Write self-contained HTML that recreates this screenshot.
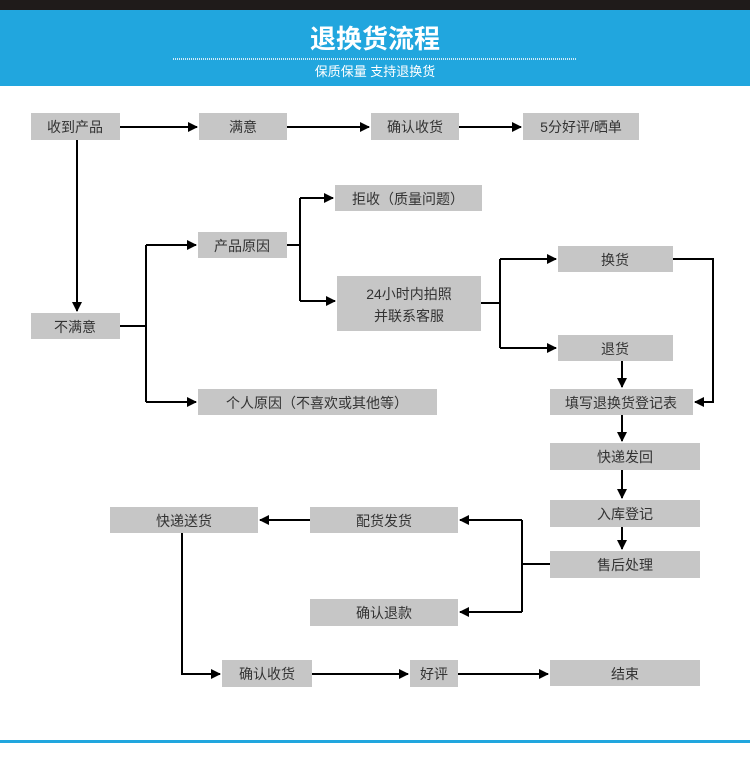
<!DOCTYPE html>
<html><head><meta charset="utf-8"><style>
body{margin:0;background:#fff;width:750px;height:758px;overflow:hidden}
svg text{font-family:"Liberation Sans","Noto Sans CJK SC",sans-serif}
</style></head><body>
<svg width="750" height="758" xmlns="http://www.w3.org/2000/svg">
<defs><marker id="a" markerWidth="10" markerHeight="10" refX="9" refY="5" orient="auto" markerUnits="userSpaceOnUse"><path d="M0,0 L10,5 L0,10z" fill="#000"/></marker></defs>
<rect x="0" y="0" width="750" height="10" fill="#1f1b1a"/>
<rect x="0" y="10" width="750" height="76" fill="#21a6de"/>
<text x="375" y="48" font-size="26" font-weight="bold" fill="#fff" text-anchor="middle">退换货流程</text>
<line x1="173" y1="59" x2="577" y2="59" stroke="#cfeaf7" stroke-width="2" stroke-dasharray="1,1"/>
<text x="375" y="76" font-size="13" fill="#fff" text-anchor="middle">保质保量 支持退换货</text>
<rect x="0" y="740" width="750" height="3" fill="#21a6de"/>
<g fill="#c6c6c6">
<rect x="31" y="113" width="89" height="27"/><rect x="199" y="113" width="88" height="27"/>
<rect x="371" y="113" width="88" height="27"/><rect x="523" y="113" width="116" height="27"/>
<rect x="335" y="185" width="147" height="26"/><rect x="198" y="232" width="89" height="26"/>
<rect x="337" y="276" width="144" height="55"/><rect x="558" y="246" width="115" height="26"/>
<rect x="558" y="335" width="115" height="26"/><rect x="31" y="313" width="89" height="26"/>
<rect x="198" y="389" width="239" height="26"/><rect x="550" y="389" width="143" height="26"/>
<rect x="550" y="443" width="150" height="27"/><rect x="550" y="500" width="150" height="27"/>
<rect x="550" y="551" width="150" height="27"/><rect x="110" y="507" width="148" height="26"/>
<rect x="310" y="507" width="148" height="26"/><rect x="310" y="599" width="148" height="27"/>
<rect x="222" y="660" width="90" height="27"/><rect x="410" y="660" width="48" height="27"/>
<rect x="550" y="660" width="150" height="26"/>
</g>
<g font-size="14" fill="#333" text-anchor="middle">
<text x="75" y="132">收到产品</text><text x="243" y="132">满意</text>
<text x="415" y="132">确认收货</text><text x="581" y="132">5分好评/晒单</text>
<text x="408" y="204">拒收（质量问题）</text><text x="242" y="251">产品原因</text>
<text x="409" y="299">24小时内拍照</text><text x="409" y="321">并联系客服</text>
<text x="615" y="265">换货</text><text x="615" y="354">退货</text>
<text x="75" y="332">不满意</text><text x="317" y="408">个人原因（不喜欢或其他等）</text>
<text x="621" y="408">填写退换货登记表</text><text x="625" y="462">快递发回</text>
<text x="625" y="519">入库登记</text><text x="625" y="570">售后处理</text>
<text x="184" y="526">快递送货</text><text x="384" y="526">配货发货</text>
<text x="384" y="618">确认退款</text><text x="267" y="679">确认收货</text>
<text x="434" y="679">好评</text><text x="625" y="679">结束</text>
</g>
<g stroke="#000" stroke-width="2" fill="none">
<line x1="120" y1="127" x2="197" y2="127" marker-end="url(#a)"/>
<line x1="287" y1="127" x2="369" y2="127" marker-end="url(#a)"/>
<line x1="459" y1="127" x2="521" y2="127" marker-end="url(#a)"/>
<line x1="77" y1="140" x2="77" y2="311" marker-end="url(#a)"/>
<polyline points="120,326 146,326"/>
<polyline points="146,245 146,402"/>
<line x1="146" y1="245" x2="196" y2="245" marker-end="url(#a)"/>
<line x1="146" y1="402" x2="196" y2="402" marker-end="url(#a)"/>
<polyline points="287,245 300,245"/><polyline points="300,198 300,301"/>
<line x1="300" y1="198" x2="333" y2="198" marker-end="url(#a)"/>
<line x1="300" y1="301" x2="335" y2="301" marker-end="url(#a)"/>
<polyline points="481,303 500,303"/><polyline points="500,259 500,348"/>
<line x1="500" y1="259" x2="556" y2="259" marker-end="url(#a)"/>
<line x1="500" y1="348" x2="556" y2="348" marker-end="url(#a)"/>
<polyline points="673,259 713,259 713,402 695,402" marker-end="url(#a)"/>
<line x1="622" y1="361" x2="622" y2="387" marker-end="url(#a)"/>
<line x1="622" y1="415" x2="622" y2="441" marker-end="url(#a)"/>
<line x1="622" y1="470" x2="622" y2="498" marker-end="url(#a)"/>
<line x1="622" y1="527" x2="622" y2="549" marker-end="url(#a)"/>
<polyline points="550,564 522,564"/><polyline points="522,520 522,612"/>
<line x1="522" y1="520" x2="460" y2="520" marker-end="url(#a)"/>
<line x1="522" y1="612" x2="460" y2="612" marker-end="url(#a)"/>
<line x1="310" y1="520" x2="260" y2="520" marker-end="url(#a)"/>
<polyline points="182,533 182,674 220,674" marker-end="url(#a)"/>
<line x1="312" y1="674" x2="408" y2="674" marker-end="url(#a)"/>
<line x1="458" y1="674" x2="548" y2="674" marker-end="url(#a)"/>
</g>
</svg>
</body></html>
